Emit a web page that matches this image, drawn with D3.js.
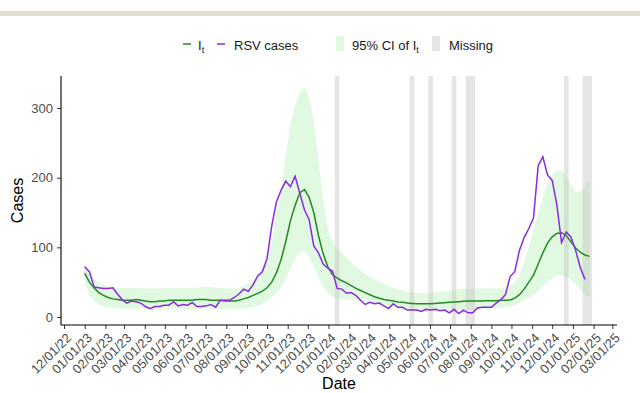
<!DOCTYPE html>
<html>
<head>
<meta charset="utf-8">
<script src="https://cdn.jsdelivr.net/npm/d3@7"></script>
<style>
  body { margin: 0; background: #fff; }
  text { font-family: "Liberation Sans", Arial, sans-serif; }
</style>
</head>
<body>
<div id="chart"></div>
<script>
// weekly series, first week starting 2023-01-01
const firstWeek = '2023-01-01';

// RSV cases (observed)
const cases = [
  72, 65, 43, 42, 41, 41, 42, 33, 25, 20,
  23, 22, 20, 15, 12, 15, 15, 17, 17, 22,
  16, 18, 17, 21, 15, 15, 16, 18, 14, 24,
  24, 24, 28, 33, 40, 37, 46, 59, 65, 84,
  130, 165, 182, 195, 187, 202, 178, 154, 140, 102,
  92, 76, 70, 66, 41, 40, 34, 35, 31, 24,
  18, 21, 19, 20, 16, 12, 19, 14, 14, 10,
  10, 10, 8, 11, 10, 11, 9, 10, 6, 11,
  5, 10, 6, 6, 13, 14, 14, 14, 20, 25,
  32, 58, 65, 96, 114, 127, 142, 217, 230, 204,
  196, 161, 107, 122, 115, 96, 71, 54
];

// estimated incidence I_t
const incidence = [
  63, 50, 42, 35, 31, 28, 26, 25, 24, 24,
  24, 25, 24, 23, 22, 22, 23, 23, 24, 24,
  24, 24, 24, 24, 25, 25, 25, 24, 24, 24,
  23, 23, 23, 24, 26, 28, 31, 34, 37, 42,
  50, 63, 82, 108, 138, 160, 178, 183, 172, 150,
  117, 91, 72, 61, 56, 52, 49, 45, 41, 38,
  35, 32, 29, 27, 25, 24, 23, 21.5, 21, 20,
  19.5, 19, 19, 19, 19, 19.5, 20, 20.5, 21, 21.5,
  22, 22.5, 23, 23, 23, 23, 23.5, 23.5, 23.5, 24,
  24, 24.5, 27, 32, 40, 50, 60, 76, 92, 106,
  115, 120, 121, 117, 108, 99, 93, 89, 87
];

// 95% CI of I_t
const ciLower = [
  48, 32, 23, 18, 15, 14, 13, 13, 12, 12,
  12, 12, 12, 12, 12, 12, 12, 12, 12, 12,
  12, 12, 12, 12, 12, 12, 12, 12, 12, 12,
  12, 12, 12, 12, 12, 13, 14, 16, 19, 23,
  28, 34, 42, 55, 70, 84, 92, 94, 86, 72,
  57, 44, 34, 29, 27, 26, 25, 25, 24, 23,
  22, 21, 19, 17, 16, 15, 14, 13, 12, 11,
  10, 10, 9, 9, 9, 9, 9, 9, 9, 9,
  10, 10, 10, 10, 11, 11, 11, 12, 12, 13,
  14, 15, 17, 20, 24, 28, 32, 38, 44, 51,
  56, 59, 60, 58, 54, 47, 40, 33, 28
];
const ciUpper = [
  76, 64, 55, 49, 46, 44, 43, 42, 42, 42,
  42, 42, 42, 41, 41, 41, 41, 42, 42, 42,
  42, 42, 42, 42, 42, 43, 43, 43, 42, 42,
  41, 41, 41, 42, 45, 48, 52, 60, 70, 84,
  105, 150, 185, 232, 275, 303, 322, 330, 315, 282,
  225, 168, 128, 108, 98, 92, 85, 79, 72, 67,
  62, 57, 54, 51, 48, 45, 42, 40, 38, 36,
  35, 34, 34, 34, 35, 35, 36, 37, 38, 39,
  40, 41, 41, 41, 41, 41, 41, 41, 41, 41,
  42, 44, 50, 60, 78, 100, 125, 150, 170, 192,
  204, 210, 210, 202, 190, 180, 180, 188, 198
];

// weeks flagged as missing
const missingWeeks = [
  '2024-01-14', '2024-05-05', '2024-06-02', '2024-07-07', '2024-07-28',
  '2024-08-04', '2024-12-22', '2025-01-19', '2025-01-26'
];

const yTicks = [0, 100, 200, 300];
const xTickStart = '2022-12-01';
const xTickEnd = '2025-03-01';

const width = 640;
const height = 393;
const panel = { left: 61, right: 617, top: 76, bottom: 325 };

const parse = d3.utcParse('%Y-%m-%d');
const start = parse(firstWeek);
const weekDate = i => d3.utcDay.offset(start, 7 * i);

const x = d3.scaleUtc()
  .domain([parse(xTickStart), parse(xTickEnd)])
  .range([64, 612.3]);
const y = d3.scaleLinear()
  .domain([0, 300])
  .range([317, 108]);

const svg = d3.select('#chart')
  .append('svg')
  .attr('width', width)
  .attr('height', height);

svg.append('rect').attr('width', width).attr('height', height).attr('fill', '#fff');

// beige strip at the top
svg.append('rect')
  .attr('x', 0).attr('y', 11).attr('width', width).attr('height', 5)
  .attr('fill', '#e1dfcf');

// CI band
const band = ciLower.map((lo, i) => ({ date: weekDate(i), lo, hi: ciUpper[i] }));
svg.append('path')
  .datum(band)
  .attr('fill', '#e1f8e1')
  .attr('d', d3.area()
    .x(d => x(d.date))
    .y0(d => y(d.lo))
    .y1(d => y(d.hi)));

// missing weeks
svg.append('g')
  .selectAll('rect')
  .data(missingWeeks.map(parse))
  .enter()
  .append('rect')
  .attr('x', d => x(d3.utcHour.offset(d, -84)))
  .attr('width', d => x(d3.utcHour.offset(d, 84)) - x(d3.utcHour.offset(d, -84)))
  .attr('y', panel.top)
  .attr('height', panel.bottom - panel.top)
  .attr('fill', '#bdbdbd')
  .attr('opacity', 0.4);

// lines
const line = d3.line()
  .x(d => x(d.date))
  .y(d => y(d.v));

svg.append('path')
  .datum(incidence.map((v, i) => ({ date: weekDate(i), v })))
  .attr('fill', 'none')
  .attr('stroke', '#228b22')
  .attr('stroke-width', 1.5)
  .attr('d', line);

svg.append('path')
  .datum(cases.map((v, i) => ({ date: weekDate(i), v })))
  .attr('fill', 'none')
  .attr('stroke', '#8a2be2')
  .attr('stroke-width', 1.5)
  .attr('d', line);

// x axis
const xAxis = svg.append('g')
  .attr('transform', `translate(0,${panel.bottom})`)
  .call(d3.axisBottom(x)
    .tickValues(d3.utcMonth.range(parse(xTickStart), d3.utcDay.offset(parse(xTickEnd), 1)))
    .tickFormat(d3.utcFormat('%m/%d/%y'))
    .tickSize(4));
xAxis.select('.domain').remove();
xAxis.selectAll('.tick line').attr('stroke', '#333');
xAxis.selectAll('.tick text')
  .attr('x', 0).attr('y', 0).attr('dy', '0.35em')
  .attr('transform', 'translate(4.5,10.5) rotate(-45)')
  .attr('text-anchor', 'end')
  .attr('fill', '#4d4d4d')
  .style('font-size', '13px')
  .style('font-family', '"Liberation Sans", Arial, sans-serif');

// y axis
const yAxis = svg.append('g')
  .attr('transform', `translate(${panel.left},0)`)
  .call(d3.axisLeft(y).tickValues(yTicks).tickSize(4).tickPadding(4));
yAxis.select('.domain').remove();
yAxis.selectAll('.tick line').attr('stroke', '#333');
yAxis.selectAll('.tick text')
  .attr('fill', '#4d4d4d')
  .style('font-size', '13px')
  .style('font-family', '"Liberation Sans", Arial, sans-serif');

// axis lines
svg.append('line')
  .attr('x1', panel.left).attr('x2', panel.right)
  .attr('y1', panel.bottom).attr('y2', panel.bottom)
  .attr('stroke', '#000').attr('stroke-width', 1.1);
svg.append('line')
  .attr('x1', panel.left).attr('x2', panel.left)
  .attr('y1', panel.top).attr('y2', panel.bottom)
  .attr('stroke', '#000').attr('stroke-width', 1.1);

// axis titles
svg.append('text')
  .attr('x', (panel.left + panel.right) / 2)
  .attr('y', 389)
  .attr('text-anchor', 'middle')
  .style('font-size', '16px')
  .text('Date');

svg.append('text')
  .attr('transform', `translate(23,${(panel.top + panel.bottom) / 2}) rotate(-90)`)
  .attr('text-anchor', 'middle')
  .style('font-size', '16px')
  .text('Cases');

// legend
const legend = svg.append('g').style('font-size', '13px');
const legendY = 44;

function subLabel(g, xPos, main, rest) {
  const t = g.append('text').attr('x', xPos).attr('y', legendY + 5.5).attr('fill', '#1a1a1a');
  t.append('tspan').text(main);
  t.append('tspan').attr('dy', 3).style('font-size', '9px').text('t');
  if (rest) t.append('tspan').attr('dy', -3).text(rest);
  return t;
}

legend.append('line')
  .attr('x1', 183).attr('x2', 191).attr('y1', legendY).attr('y2', legendY)
  .attr('stroke', '#228b22').attr('stroke-width', 1.5);
subLabel(legend, 198, 'I');

legend.append('line')
  .attr('x1', 217).attr('x2', 225).attr('y1', legendY).attr('y2', legendY)
  .attr('stroke', '#8a2be2').attr('stroke-width', 1.5);
legend.append('text')
  .attr('x', 234).attr('y', legendY + 5.5).attr('fill', '#1a1a1a')
  .text('RSV cases');

legend.append('rect')
  .attr('x', 336).attr('y', 36).attr('width', 8).attr('height', 15)
  .attr('fill', '#e1f8e1');
subLabel(legend, 352, '95% CI of I');

legend.append('rect')
  .attr('x', 432).attr('y', 36).attr('width', 8).attr('height', 15)
  .attr('fill', '#e5e5e5');
legend.append('text')
  .attr('x', 449).attr('y', legendY + 5.5).attr('fill', '#1a1a1a')
  .text('Missing');
</script>
</body>
</html>
